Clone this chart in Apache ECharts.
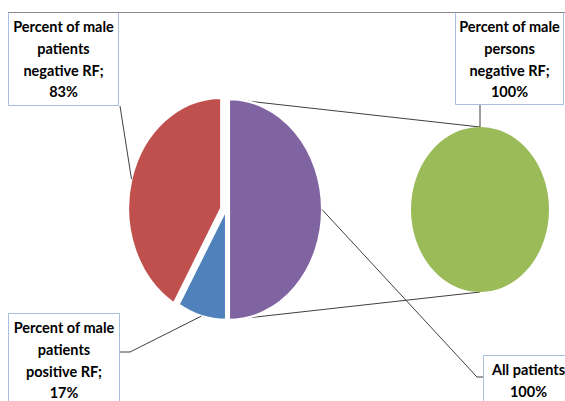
<!DOCTYPE html>
<html><head><meta charset="utf-8">
<script src="https://cdn.jsdelivr.net/npm/echarts@6/dist/echarts.min.js"></script>
<style>html,body{margin:0;padding:0;background:#fff}#c{width:565px;height:401px}</style>
</head><body><div id="c"></div>
<script>
// ---- data ----
const primaryCategories = ['All patients', 'Percent of male patients positive RF', 'Percent of male patients negative RF'];
const primaryValues = [100, 17, 83];
const secondaryCategories = ['Percent of male persons negative RF'];
const secondaryValues = [100];

// ---- style / layout ----
const primaryColors = ['#8064A2', '#4F81BD', '#C0504D'];
const secondaryColors = ['#9BBB59'];
const L = {cx: 226, cy: 209.5, rx: 93, ry: 110.5};
const R = {cx: 480, cy: 209.5, rx: 69, ry: 82.5};
const primaryExplode = [[3, 0], [0, 0], [-4.8, -1.3]];
const secondaryExplode = [[0, 0]];
const FONT = 'bold 14.5px Lato, "Liberation Sans", sans-serif';
const LINE_H = 21.7;
const boxBorder = '#A7C0E0';
const lineColor = '#3f3f3f';

const labelLayout = {
  'Percent of male patients negative RF': {box: [8, 12, 110, 93], path: [[120, 106]]},
  'Percent of male patients positive RF': {box: [8, 313, 111, 100], path: [[120, 352], [130, 352]]},
  'All patients': {box: [483, 355, 90, 60], path: [[483, 377], [477, 377]], sep: ''},
  'Percent of male persons negative RF': {box: [455, 12, 108, 92], path: [[480, 104]], angle: 0}
};

function wrap(str, maxChars) {
  const words = str.split(' ');
  const lines = [];
  let cur = '';
  words.forEach(w => {
    if (!cur) cur = w;
    else if ((cur + ' ' + w).length <= maxChars) cur += ' ' + w;
    else { lines.push(cur); cur = w; }
  });
  if (cur) lines.push(cur);
  return lines.join('\n');
}

function geomOf(values, i, geo, explode, angleOverride) {
  const total = values.reduce((a, b) => a + b, 0);
  let before = 0;
  for (let k = 0; k < i; k++) before += values[k];
  const mid = angleOverride !== undefined ? angleOverride : (before + values[i] / 2) / total * 2 * Math.PI;
  const off = explode[i] || [0, 0];
  return [geo.cx + off[0] + geo.rx * Math.sin(mid), geo.cy + off[1] - geo.ry * Math.cos(mid)];
}

function pieRender(values, geo, colors, explode, border) {
  const total = values.reduce((a, b) => a + b, 0);
  return function (params, api) {
    const i = params.dataIndex;
    let before = 0;
    for (let k = 0; k < i; k++) before += values[k];
    const v = api.value(0);
    const a0 = -Math.PI / 2 + before / total * 2 * Math.PI;
    const a1 = a0 + v / total * 2 * Math.PI;
    const off = explode[i] || [0, 0];
    return {
      type: 'sector',
      x: geo.cx + off[0], y: geo.cy + off[1],
      scaleX: geo.rx / geo.ry, scaleY: 1,
      shape: {cx: 0, cy: 0, r: geo.ry, r0: 0, startAngle: a0, endAngle: a1, clockwise: true},
      style: {fill: colors[i], stroke: border ? '#ffffff' : null, lineWidth: border || 0}
    };
  };
}

// graphic annotations
const graphics = [];
// series lines connecting the "other" slice to the secondary pie
const oOff = primaryExplode[0];
graphics.push({type: 'line', z: 1, shape: {x1: L.cx + oOff[0], y1: L.cy - L.ry, x2: R.cx, y2: R.cy - R.ry}, style: {stroke: lineColor, lineWidth: 1}});
graphics.push({type: 'line', z: 1, shape: {x1: L.cx + oOff[0], y1: L.cy + L.ry, x2: R.cx, y2: R.cy + R.ry}, style: {stroke: lineColor, lineWidth: 1}});

function addLabel(name, value, anchor) {
  const lay = labelLayout[name];
  const sep = lay.sep !== undefined ? lay.sep : ';';
  const text = wrap(name + sep + ' ' + value + '%', 15);
  const pts = lay.path.concat([anchor]);
  graphics.push({type: 'polyline', z: 50, shape: {points: pts}, style: {stroke: lineColor, lineWidth: 1, fill: null}});
  const b = lay.box;
  graphics.push({type: 'rect', z: 60, shape: {x: b[0] + 0.5, y: b[1] + 0.5, width: b[2], height: b[3]}, style: {fill: '#ffffff', stroke: boxBorder, lineWidth: 1}});
  graphics.push({type: 'text', z: 61, x: b[0] + b[2] / 2 + 0.5, y: b[1] + 4,
    style: {text: text, font: FONT, fill: '#000000', align: 'center', verticalAlign: 'top', lineHeight: LINE_H}});
}
primaryCategories.forEach((n, i) => {
  const lay = labelLayout[n];
  addLabel(n, primaryValues[i], geomOf(primaryValues, i, L, primaryExplode, lay.angle));
});
secondaryCategories.forEach((n, i) => {
  const lay = labelLayout[n];
  addLabel(n, secondaryValues[i], geomOf(secondaryValues, i, R, secondaryExplode, lay.angle));
});
// top frame line
graphics.push({type: 'line', z: 62, shape: {x1: 8, y1: 12.5, x2: 565, y2: 12.5}, style: {stroke: '#8c8c8c', lineWidth: 1}});

const chart = echarts.init(document.getElementById('c'), null, {renderer: 'svg'});
chart.setOption({
  animation: false,
  backgroundColor: '#ffffff',
  series: [
    {type: 'custom', coordinateSystem: 'none', z: 10,
     data: primaryValues.map((v, i) => ({name: primaryCategories[i], value: [v]})),
     renderItem: pieRender(primaryValues, L, primaryColors, primaryExplode, 2.5)},
    {type: 'custom', coordinateSystem: 'none', z: 10,
     data: secondaryValues.map((v, i) => ({name: secondaryCategories[i], value: [v]})),
     renderItem: pieRender(secondaryValues, R, secondaryColors, secondaryExplode, 0)}
  ],
  graphic: graphics
});
</script></body></html>
